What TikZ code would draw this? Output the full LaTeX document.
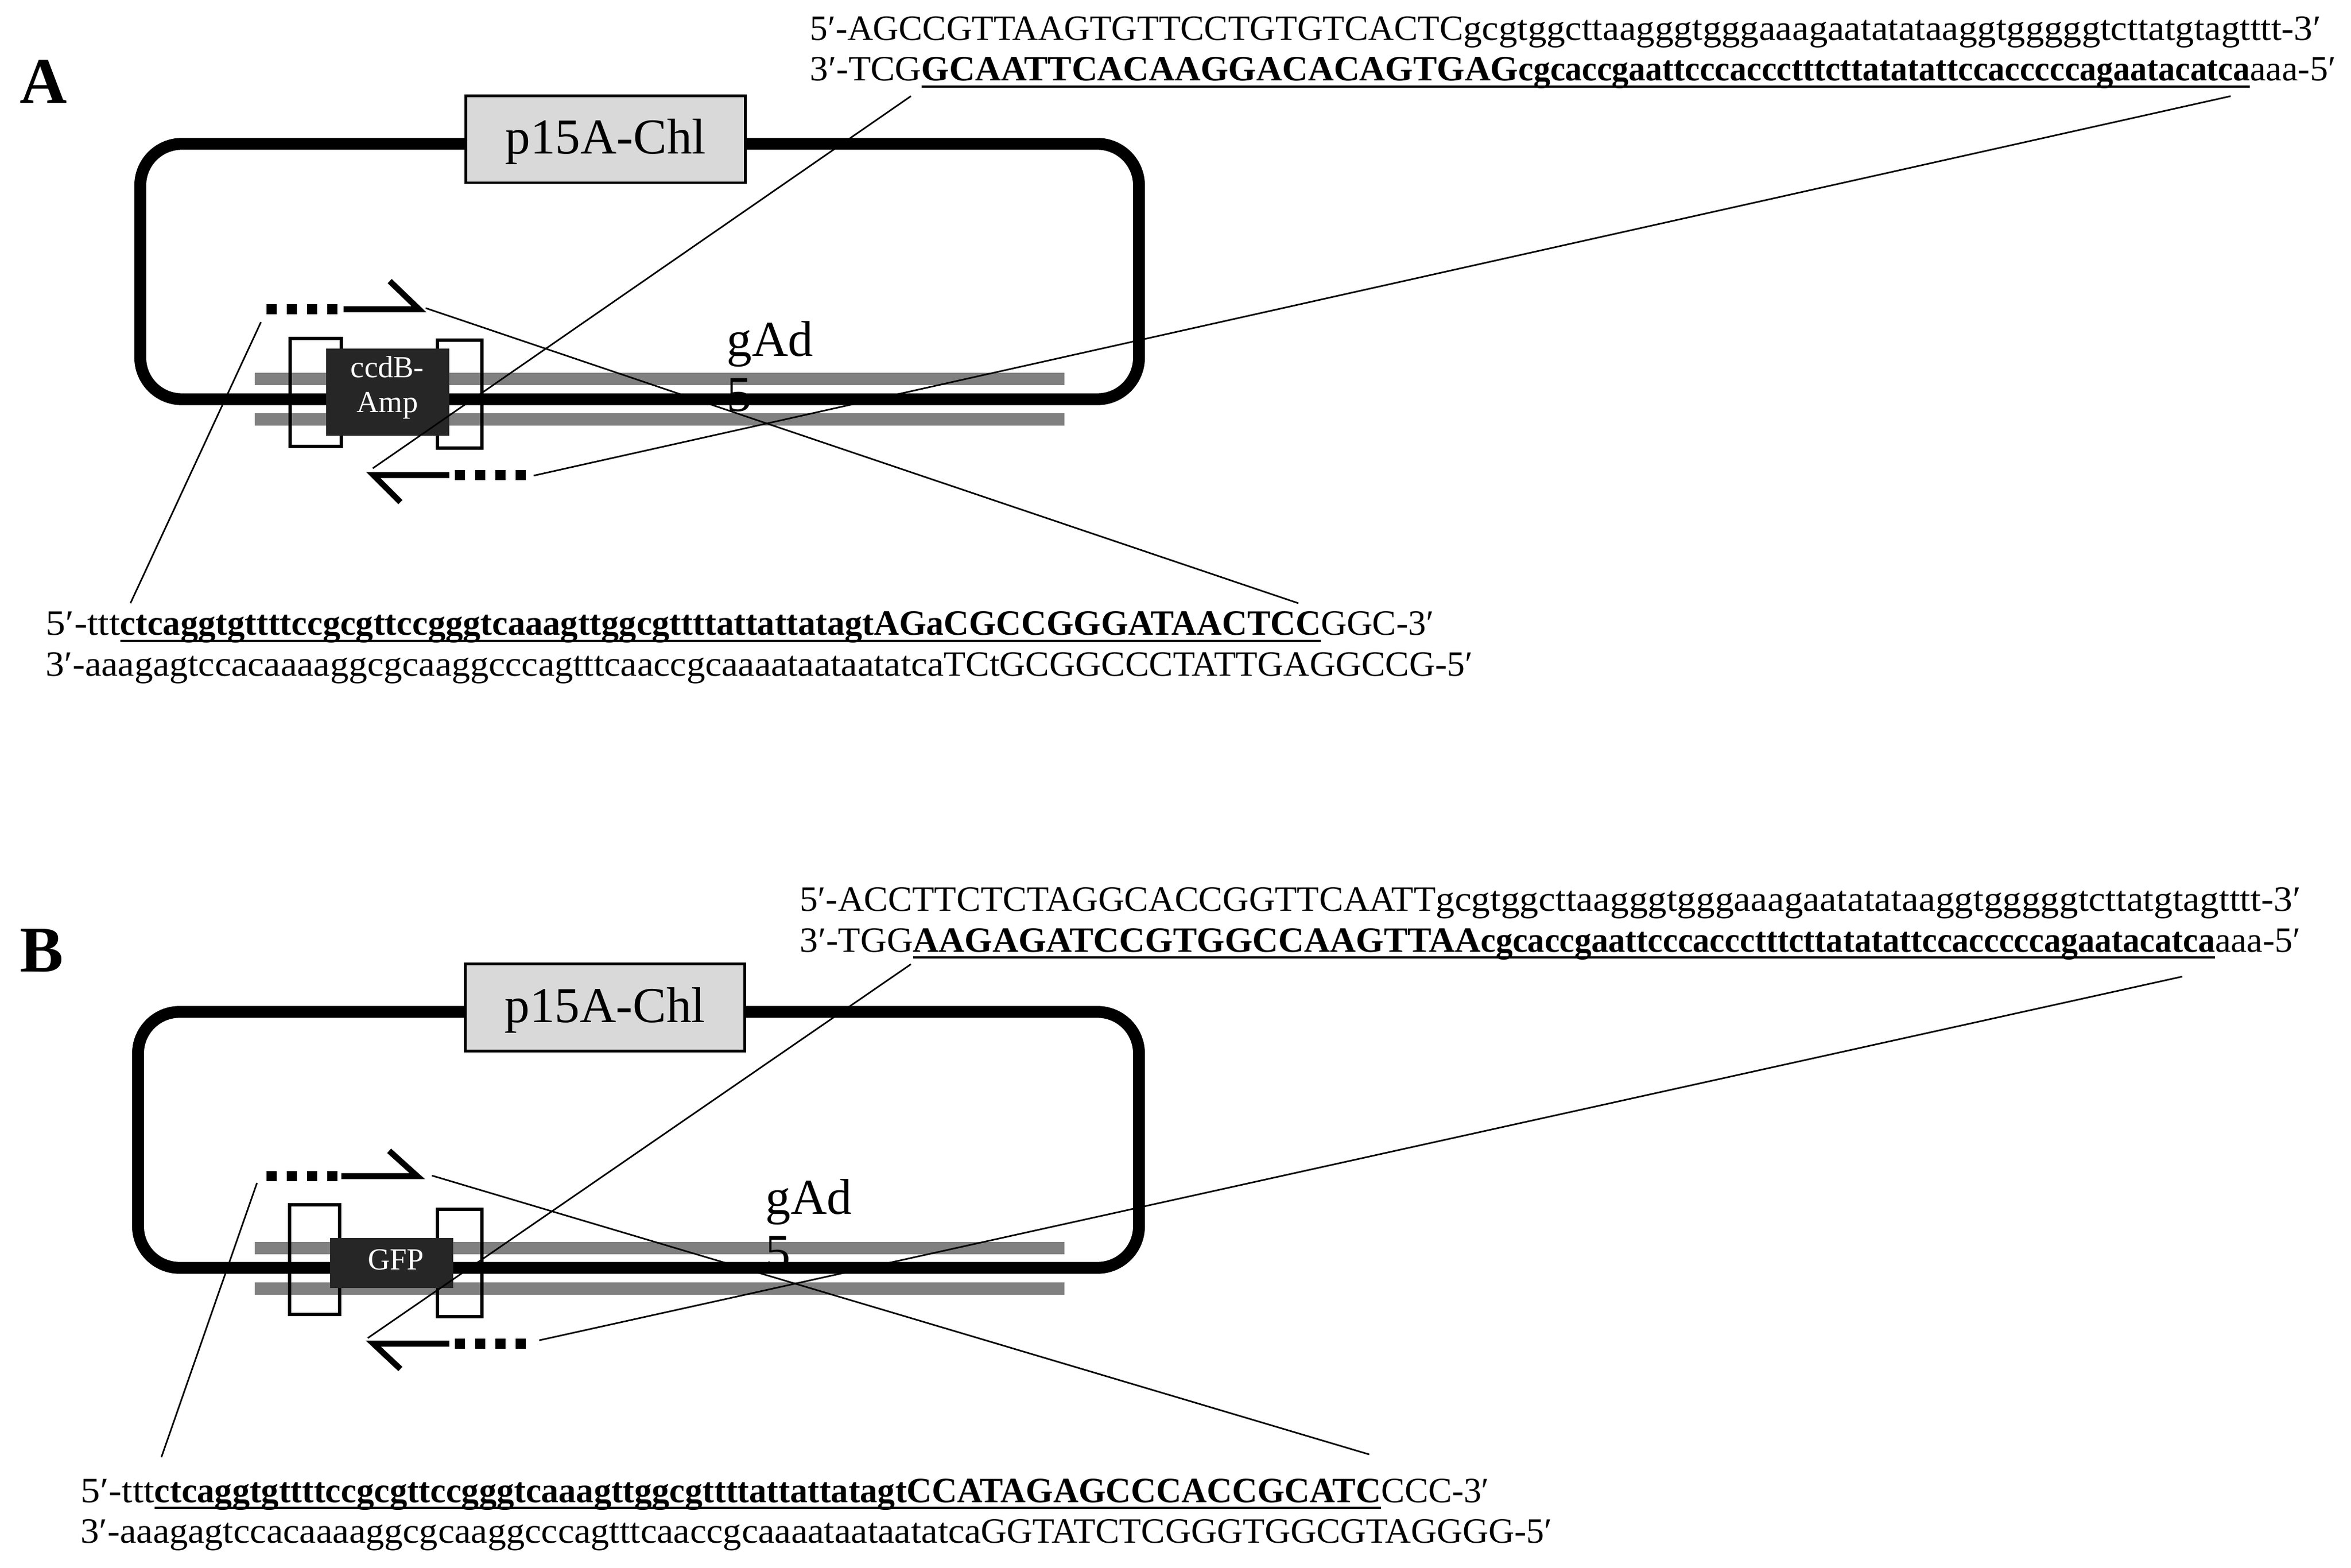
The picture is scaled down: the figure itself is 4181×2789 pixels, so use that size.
\documentclass[tikz,border=0pt]{standalone}
\usepackage{graphicx}
\usepackage{fontspec}
\setmainfont{Liberation Serif}
\definecolor{bandgray}{HTML}{808080}
\definecolor{insertdark}{HTML}{262626}
\definecolor{markergray}{HTML}{D9D9D9}
\newcommand{\seqline}[2]{\resizebox{#1}{\height}{#2}}
\newcommand{\ulseq}[1]{\setbox0=\hbox{\bfseries #1}\rlap{\rule[-3.3pt]{\wd0}{1pt}}\box0}
\tikzset{
    plasmid/.style={draw,line width=6pt,rounded corners=21pt,inner sep=0pt},
    marker/.style={draw,line width=1.4pt,fill=markergray,inner sep=0pt,minimum width=4.96cm,minimum height=1.54cm,text height=20.2pt,font=\fontsize{25.4}{28}\selectfont},
    band/.style={fill=bandgray,inner sep=0pt,minimum width=14.4cm,minimum height=0.22cm},
    flank/.style={draw,line width=1.8pt,inner sep=0pt},
    insert/.style={fill=insertdark,inner sep=0pt,minimum width=2.19cm},
    insertlabel/.style={text=white,inner sep=0pt,align=center,font=\fontsize{15.5}{17.6}\selectfont},
    gene/.style={anchor=north west,inner sep=0pt,align=left,font=\fontsize{25.4}{27.9}\selectfont},
    seq/.style={anchor=base west,inner sep=0pt,font=\fontsize{18}{20}\selectfont},
    panel/.style={anchor=base west,inner sep=0pt,font=\fontsize{33}{36}\selectfont\bfseries},
    primer/.style={line width=3pt,miter limit=10},
    primertail/.style={line width=5.1pt,dash pattern=on 5.1pt off 5.1pt},
    lead/.style={line width=0.8pt}
}
\begin{document}
\begin{tikzpicture}[x=0.01cm,y=-0.01cm]
                \useasboundingbox (0,0) rectangle (4181,2789);
                \node[panel] (labelA) at (35,184) {A};
                \node[band] (bandA1) at (1173,674) {};
                \node[band] (bandA2) at (1173,746) {};
                \node[gene] (geneA) at (1292,571) {gAd\\5};
                \node[plasmid,minimum width=17.75cm,minimum height=4.54cm] (plasmidA) at (1137.5,483) {};
                \node[flank,minimum width=0.91cm,minimum height=1.92cm] (flankA1) at (561.5,698) {};
                \node[flank,minimum width=0.79cm,minimum height=1.92cm] (flankA2) at (817.5,701) {};
                \node[insert,minimum height=1.55cm] (insertA) at (689.5,697.5) {};
                \node[insertlabel] (insertlabelA) at (689,689) {ccdB-\\Amp};
                \node[marker] (markerA) at (1077,248) {p15A-Chl};
                \coordinate (fwdtailA) at (474,550);
                \coordinate (fwdstartA) at (611,550);
                \coordinate (fwdcornerA) at (745,550);
                \coordinate (fwdtipA) at (693,500);
                \coordinate (revtailA) at (935,845);
                \coordinate (revstartA) at (799,845);
                \coordinate (revcornerA) at (664,845);
                \coordinate (revtipA) at (712,893);
                \draw[primertail] (fwdtailA) -- (fwdstartA);
                \draw[primer] (fwdstartA) -- (fwdcornerA) -- (fwdtipA);
                \draw[primertail] (revtailA) -- (revstartA);
                \draw[primer] (revstartA) -- (revcornerA) -- (revtipA);
                \node[seq] (topA1) at (1440,72) {\seqline{11.61cm}{5′-AGCCGTTAAGTGTTCCTGTGTCACTC}\seqline{15.24cm}{gcgtggcttaagggtgggaaagaatatataaggtgggggtcttatgtagtttt-3′}};
                \node[seq] (topA2) at (1440,144) {\seqline{1.98cm}{3′-TCG}\ulseq{\seqline{10.61cm}{GCAATTCACAAGGACACAGTGAG}\seqline{13.00cm}{cgcaccgaattcccaccctttcttatatattccacccccagaatacatca}}\seqline{1.53cm}{aaa-5′}};
                \node[seq] (botA1) at (81,1130) {\seqline{1.32cm}{5′-ttt}\ulseq{\seqline{13.40cm}{ctcaggtgttttccgcgttccgggtcaaagttggcgttttattattatagt}\seqline{7.94cm}{AGaCGCCGGGATAACTCC}}\seqline{2.01cm}{GGC-3′}};
                \node[seq] (botA2) at (81,1203) {\seqline{15.96cm}{3′-aaagagtccacaaaaggcgcaaggcccagtttcaaccgcaaaataataatatca}\seqline{9.40cm}{TCtGCGGCCCTATTGAGGCCG-5′}};
                \coordinate (leadA1) at (464,573);
                \coordinate (leadA2) at (232,1073);
                \coordinate (leadA3) at (757,548);
                \coordinate (leadA4) at (2309,1073);
                \coordinate (leadA5) at (663,833);
                \coordinate (leadA6) at (1620,171);
                \coordinate (leadA7) at (949,846);
                \coordinate (leadA8) at (3967,171);
                \draw[lead] (leadA1) -- (leadA2);
                \draw[lead] (leadA3) -- (leadA4);
                \draw[lead] (leadA5) -- (leadA6);
                \draw[lead] (leadA7) -- (leadA8);
                \node[panel] (labelB) at (35,1728) {B};
                \node[band] (bandB1) at (1173,2219.5) {};
                \node[band] (bandB2) at (1173,2291.5) {};
                \node[gene] (geneB) at (1361,2097) {gAd\\5};
                \node[plasmid,minimum width=17.79cm,minimum height=4.55cm] (plasmidB) at (1135.5,2027.5) {};
                \node[flank,minimum width=0.89cm,minimum height=1.95cm] (flankB1) at (559.5,2240.5) {};
                \node[flank,minimum width=0.79cm,minimum height=1.91cm] (flankB2) at (817.5,2246.5) {};
                \node[insert,minimum height=0.89cm] (insertB) at (696.5,2246.5) {};
                \node[insertlabel] (insertlabelB) at (704,2241) {GFP};
                \node[marker] (markerB) at (1076,1792) {p15A-Chl};
                \coordinate (fwdtailB) at (474,2092);
                \coordinate (fwdstartB) at (607,2092);
                \coordinate (fwdcornerB) at (742,2092);
                \coordinate (fwdtipB) at (692,2047);
                \coordinate (revtailB) at (935,2390);
                \coordinate (revstartB) at (799,2390);
                \coordinate (revcornerB) at (664,2390);
                \coordinate (revtipB) at (712,2435);
                \draw[primertail] (fwdtailB) -- (fwdstartB);
                \draw[primer] (fwdstartB) -- (fwdcornerB) -- (fwdtipB);
                \draw[primertail] (revtailB) -- (revstartB);
                \draw[primer] (revstartB) -- (revcornerB) -- (revtipB);
                \node[seq] (topB1) at (1422,1620) {\seqline{11.30cm}{5′-ACCTTCTCTAGGCACCGGTTCAATT}\seqline{15.37cm}{gcgtggcttaagggtgggaaagaatatataaggtgggggtcttatgtagtttt-3′}};
                \node[seq] (topB2) at (1422,1693) {\seqline{2.01cm}{3′-TGG}\ulseq{\seqline{10.09cm}{AAGAGATCCGTGGCCAAGTTAA}\seqline{13.05cm}{cgcaccgaattcccaccctttcttatatattccacccccagaatacatca}}\seqline{1.52cm}{aaa-5′}};
                \node[seq] (botB1) at (143,2672) {\seqline{1.31cm}{5′-ttt}\ulseq{\seqline{13.37cm}{ctcaggtgttttccgcgttccgggtcaaagttggcgttttattattatagt}\seqline{8.43cm}{CCATAGAGCCCACCGCATC}}\seqline{1.92cm}{CCC-3′}};
                \node[seq] (botB2) at (143,2744) {\seqline{16.00cm}{3′-aaagagtccacaaaaggcgcaaggcccagtttcaaccgcaaaataataatatca}\seqline{10.15cm}{GGTATCTCGGGTGGCGTAGGGG-5′}};
                \coordinate (leadB1) at (457,2104);
                \coordinate (leadB2) at (287,2592);
                \coordinate (leadB3) at (768,2091);
                \coordinate (leadB4) at (2435,2587);
                \coordinate (leadB5) at (654,2380);
                \coordinate (leadB6) at (1620,1715);
                \coordinate (leadB7) at (959,2384);
                \coordinate (leadB8) at (3881,1737);
                \draw[lead] (leadB1) -- (leadB2);
                \draw[lead] (leadB3) -- (leadB4);
                \draw[lead] (leadB5) -- (leadB6);
                \draw[lead] (leadB7) -- (leadB8);
            \end{tikzpicture}
\end{document}
